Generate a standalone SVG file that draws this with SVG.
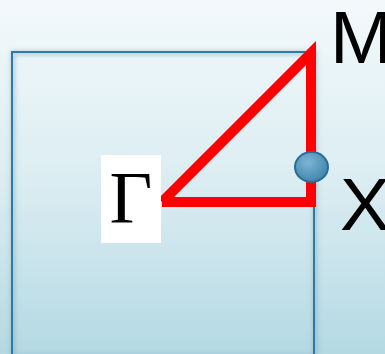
<svg xmlns="http://www.w3.org/2000/svg" width="385" height="354" viewBox="0 0 385 354">
<defs>
<linearGradient id="bg" x1="0" y1="0" x2="0" y2="1">
<stop offset="0" stop-color="#f3f9fb"/>
<stop offset="0.5" stop-color="#dcedf2"/>
<stop offset="1" stop-color="#b4d9e3"/>
</linearGradient>
<radialGradient id="dot" cx="0.4" cy="0.35" r="0.7">
<stop offset="0" stop-color="#7fb4d4"/>
<stop offset="1" stop-color="#3d83ad"/>
</radialGradient>
<filter id="sh" x="-10%" y="-10%" width="120%" height="120%">
<feGaussianBlur stdDeviation="2"/>
</filter>
<style>
.lbl{font-family:"Liberation Sans",Arial,sans-serif;font-size:75px;fill:#000}
.gam{font-family:"Liberation Serif","Times New Roman",serif;font-size:74px;fill:#000}
</style>
</defs>
<rect width="385" height="354" fill="url(#bg)"/>
<g id="square">
<rect x="13" y="53" width="302" height="304" fill="none" stroke="#5d8fa8" stroke-opacity="0.35" stroke-width="5" filter="url(#sh)"/>
<rect x="12" y="52" width="302" height="304" fill="none" stroke="#2f7aa3" stroke-width="2"/>
</g>
<g id="connectors">
<polyline points="162,202 311,53 311,202 162,202" fill="none" stroke="#ff0000" stroke-width="10" stroke-linejoin="miter"/>
</g>
<g id="point-X">
<ellipse cx="311.5" cy="167" rx="16.5" ry="15" fill="url(#dot)" stroke="#2a6e93" stroke-width="2"/>
</g>
<g id="label-Gamma">
<rect x="101" y="155" width="60" height="88" fill="#ffffff"/>
<text class="gam" x="131" y="223" text-anchor="middle">Γ</text>
</g>
<g id="label-M">
<text class="lbl" x="330" y="63">M</text>
</g>
<g id="label-X">
<text class="lbl" x="340" y="230">X</text>
</g>
</svg>
